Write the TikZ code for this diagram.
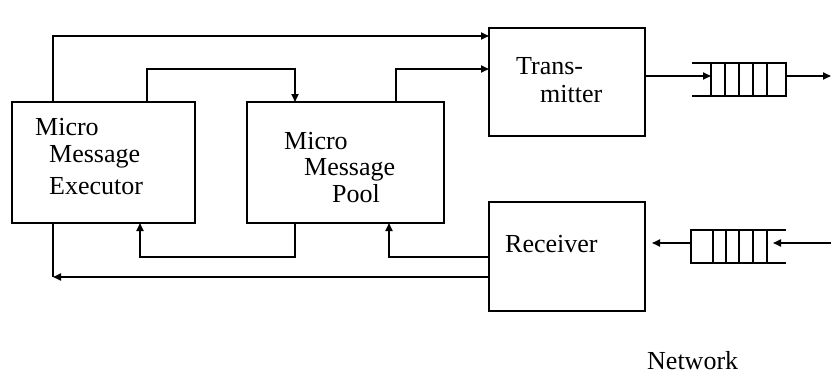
\documentclass[tikz,border=0pt]{standalone}
\usepackage{fontspec}
\setmainfont{Liberation Serif}
\usetikzlibrary{arrows.meta}
\begin{document}
\begin{tikzpicture}[x=1pt,y=-1pt,
  ln/.style={line width=1.8pt},
  arr/.style={ln,-{Triangle[length=8pt,width=7pt]}},
  box/.style={draw,ln,anchor=north west,inner sep=0pt,outer sep=0pt},
  txt/.style={anchor=base west,inner sep=0pt,font=\fontsize{26pt}{30pt}\selectfont}]
\useasboundingbox (0,0) rectangle (831,383);
% boxes
\node[box,minimum width=183pt,minimum height=121pt] (exec) at (12,102) {};
\node[box,minimum width=197pt,minimum height=121pt] (pool) at (247,102) {};
\node[box,minimum width=156pt,minimum height=108pt] (tx) at (489,28) {};
\node[box,minimum width=156pt,minimum height=109pt] (rx) at (489,202) {};
% texts
\node[txt] (e1) at (35,135) {Micro};
\node[txt] (e2) at (49,162) {Message};
\node[txt] (e3) at (49,194) {Executor};
\node[txt] (p1) at (284,149) {Micro};
\node[txt] (p2) at (304,175) {Message};
\node[txt] (p3) at (332,202) {Pool};
\node[txt] (t1) at (516,74) {Trans-};
\node[txt] (t2) at (540,102) {mitter};
\node[txt] (r1) at (505,252) {Receiver};
\node[txt] (nw) at (647,369) {Network};
% queues
\node[box,minimum width=75pt,minimum height=33pt] (outq) at (711,63) {};
\draw[ln] (692,63) -- (711,63) (692,96) -- (711,96);
\foreach \x in {725,739,753,767} \draw[ln] (\x,63) -- (\x,96);
\node[box,minimum width=76pt,minimum height=33pt] (inq) at (691,230) {};
\draw[ln] (767,230) -- (786,230) (767,263) -- (786,263);
\foreach \x in {713,726,739,753} \draw[ln] (\x,230) -- (\x,263);
% bend coordinates
\coordinate (a1) at (53,36);
\coordinate (a2) at (147,69);
\coordinate (a3) at (295,69);
\coordinate (a4) at (396,69);
\coordinate (b1) at (295,257);
\coordinate (b2) at (140,257);
\coordinate (b3) at (389,257);
\coordinate (b4) at (53,277);
\coordinate (q1) at (711,76);
\coordinate (q2) at (831,76);
\coordinate (q3) at (831,243);
\coordinate (q4) at (773,243);
\coordinate (q5) at (652,243);
% connectors
\draw[arr] (a1 |- exec.north) -- (a1) -- (a1 -| tx.west);
\draw[arr] (a2 |- exec.north) -- (a2) -- (a3) -- (a3 |- pool.north);
\draw[arr] (a4 |- pool.north) -- (a4) -- (a4 -| tx.west);
\draw[arr] (b1 |- pool.south) -- (b1) -- (b2) -- (b2 |- exec.south);
\draw[arr] (b3 -| rx.west) -- (b3) -- (b3 |- pool.south);
\draw[ln] (b4 |- exec.south) -- (b4);
\draw[arr] (b4 -| rx.west) -- (b4);
\draw[arr] (q1 -| tx.east) -- (q1);
\draw[arr] (q1 -| outq.east) -- (q2);
\draw[arr] (q3) -- (q4);
\draw[arr] (q4 -| inq.west) -- (q5);
\end{tikzpicture}
\end{document}
